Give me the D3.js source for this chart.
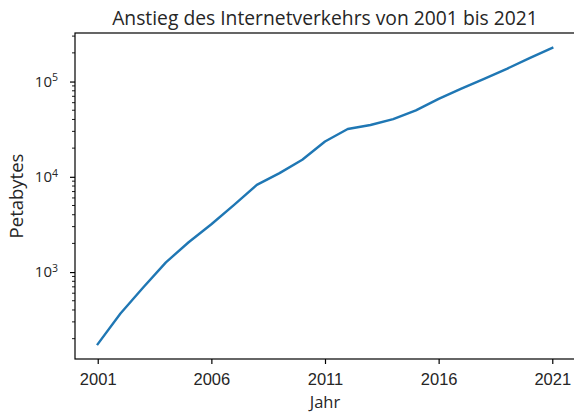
<!DOCTYPE html>
<html>
<head>
<meta charset="utf-8">
<script src="https://cdn.jsdelivr.net/npm/d3@7"></script>
<style>
  body { margin: 0; background: #fff; }
  svg { display: block; font-family: 'Open Sans', sans-serif; }
  .tick-label { fill: #262626; }
</style>
</head>
<body>
<div class="container"></div>
<script>
const years = [2001, 2002, 2003, 2004, 2005, 2006, 2007, 2008, 2009, 2010, 2011,
  2012, 2013, 2014, 2015, 2016, 2017, 2018, 2019, 2020, 2021];
const traffic = [175, 367, 690, 1265, 2055, 3180, 5070, 8240, 10940, 15100, 23500,
  31800, 35000, 40400, 49900, 65800, 84400, 106700, 136000, 176000, 226000];
const xTicks = [2001, 2006, 2011, 2016, 2021];
const yTicks = [1e3, 1e4, 1e5];

const width = 574;
const height = 413;
const margin = { top: 33, right: 0, bottom: 54, left: 75 };
const innerW = 574 - margin.left + 1;
const innerH = height - margin.top - margin.bottom;

const svg = d3
  .select('.container')
  .append('svg')
  .attr('width', width)
  .attr('height', height);

const graph = svg
  .append('g')
  .attr('transform', `translate(${margin.left}, ${margin.top})`);

// matplotlib-like 5% margins
const xPad = (d3.max(years) - d3.min(years)) * 0.05;
const x = d3.scaleLinear()
  .domain([d3.min(years) - xPad, d3.max(years) + xPad])
  .range([0, innerW]);

const lmin = Math.log10(d3.min(traffic));
const lmax = Math.log10(d3.max(traffic));
const lPad = (lmax - lmin) * 0.05;
const y = d3.scaleLog()
  .domain([Math.pow(10, lmin - lPad), Math.pow(10, lmax + lPad)])
  .range([innerH, 0]);

// line
const line = d3.line()
  .x((d, i) => x(years[i]))
  .y(d => y(d));

graph.append('path')
  .datum(traffic)
  .attr('fill', 'none')
  .attr('stroke', '#1f77b4')
  .attr('stroke-width', 2.4)
  .attr('stroke-linejoin', 'round')
  .attr('stroke-linecap', 'square')
  .attr('d', line);

// x axis
const xAxis = graph.append('g')
  .attr('transform', `translate(0, ${innerH})`)
  .call(d3.axisBottom(x).tickValues(xTicks).tickFormat(d3.format('d')).tickSize(5).tickPadding(0));
xAxis.select('.domain').remove();
xAxis.selectAll('line').attr('stroke', '#000').attr('stroke-width', 1.2);
xAxis.selectAll('text')
  .attr('class', 'tick-label')
  .attr('font-family', null)
  .attr('font-size', null)
  .style('font-size', '16.5px')
  .attr('y', 25.5)
  .attr('dy', null);

// y axis major
const yAxis = graph.append('g')
  .call(d3.axisLeft(y).tickValues(yTicks).tickFormat('').tickSize(5));
yAxis.select('.domain').remove();
yAxis.selectAll('line').attr('stroke', '#000').attr('stroke-width', 1.2);

yTicks.forEach(v => {
  const t = graph.append('text')
    .attr('class', 'tick-label')
    .attr('x', -17)
    .attr('y', y(v) + 5)
    .attr('text-anchor', 'end')
    .style('font-size', '15px');
  t.append('tspan').text('10');
  t.append('tspan').attr('dy', '-0.5em').style('font-size', '10.5px').text(Math.round(Math.log10(v)));
});

// y axis minor
const [d0, d1] = y.domain();
const minor = [];
for (let e = Math.floor(Math.log10(d0)); e <= Math.ceil(Math.log10(d1)); e++) {
  for (let m = 2; m <= 9; m++) {
    const v = m * Math.pow(10, e);
    if (v >= d0 && v <= d1) minor.push(v);
  }
}
graph.append('g')
  .selectAll('line')
  .data(minor)
  .enter()
  .append('line')
  .attr('x1', 0)
  .attr('x2', -3)
  .attr('y1', d => y(d))
  .attr('y2', d => y(d))
  .attr('stroke', '#000')
  .attr('stroke-width', 0.9);

// frame
graph.append('rect')
  .attr('x', 0)
  .attr('y', 0)
  .attr('width', innerW)
  .attr('height', innerH)
  .attr('fill', 'none')
  .attr('stroke', '#000')
  .attr('stroke-width', 1.2);

// labels
svg.append('text')
  .attr('x', margin.left + innerW / 2)
  .attr('y', 25)
  .attr('text-anchor', 'middle')
  .style('font-size', '19.3px')
  .attr('fill', '#262626')
  .text('Anstieg des Internetverkehrs von 2001 bis 2021');

svg.append('text')
  .attr('x', margin.left + innerW / 2)
  .attr('y', 407.5)
  .attr('text-anchor', 'middle')
  .style('font-size', '16.5px')
  .attr('fill', '#262626')
  .text('Jahr');

svg.append('text')
  .attr('transform', `translate(23, ${margin.top + innerH / 2}) rotate(-90)`)
  .attr('text-anchor', 'middle')
  .style('font-size', '18.5px')
  .attr('fill', '#262626')
  .text('Petabytes');
</script>
</body>
</html>
